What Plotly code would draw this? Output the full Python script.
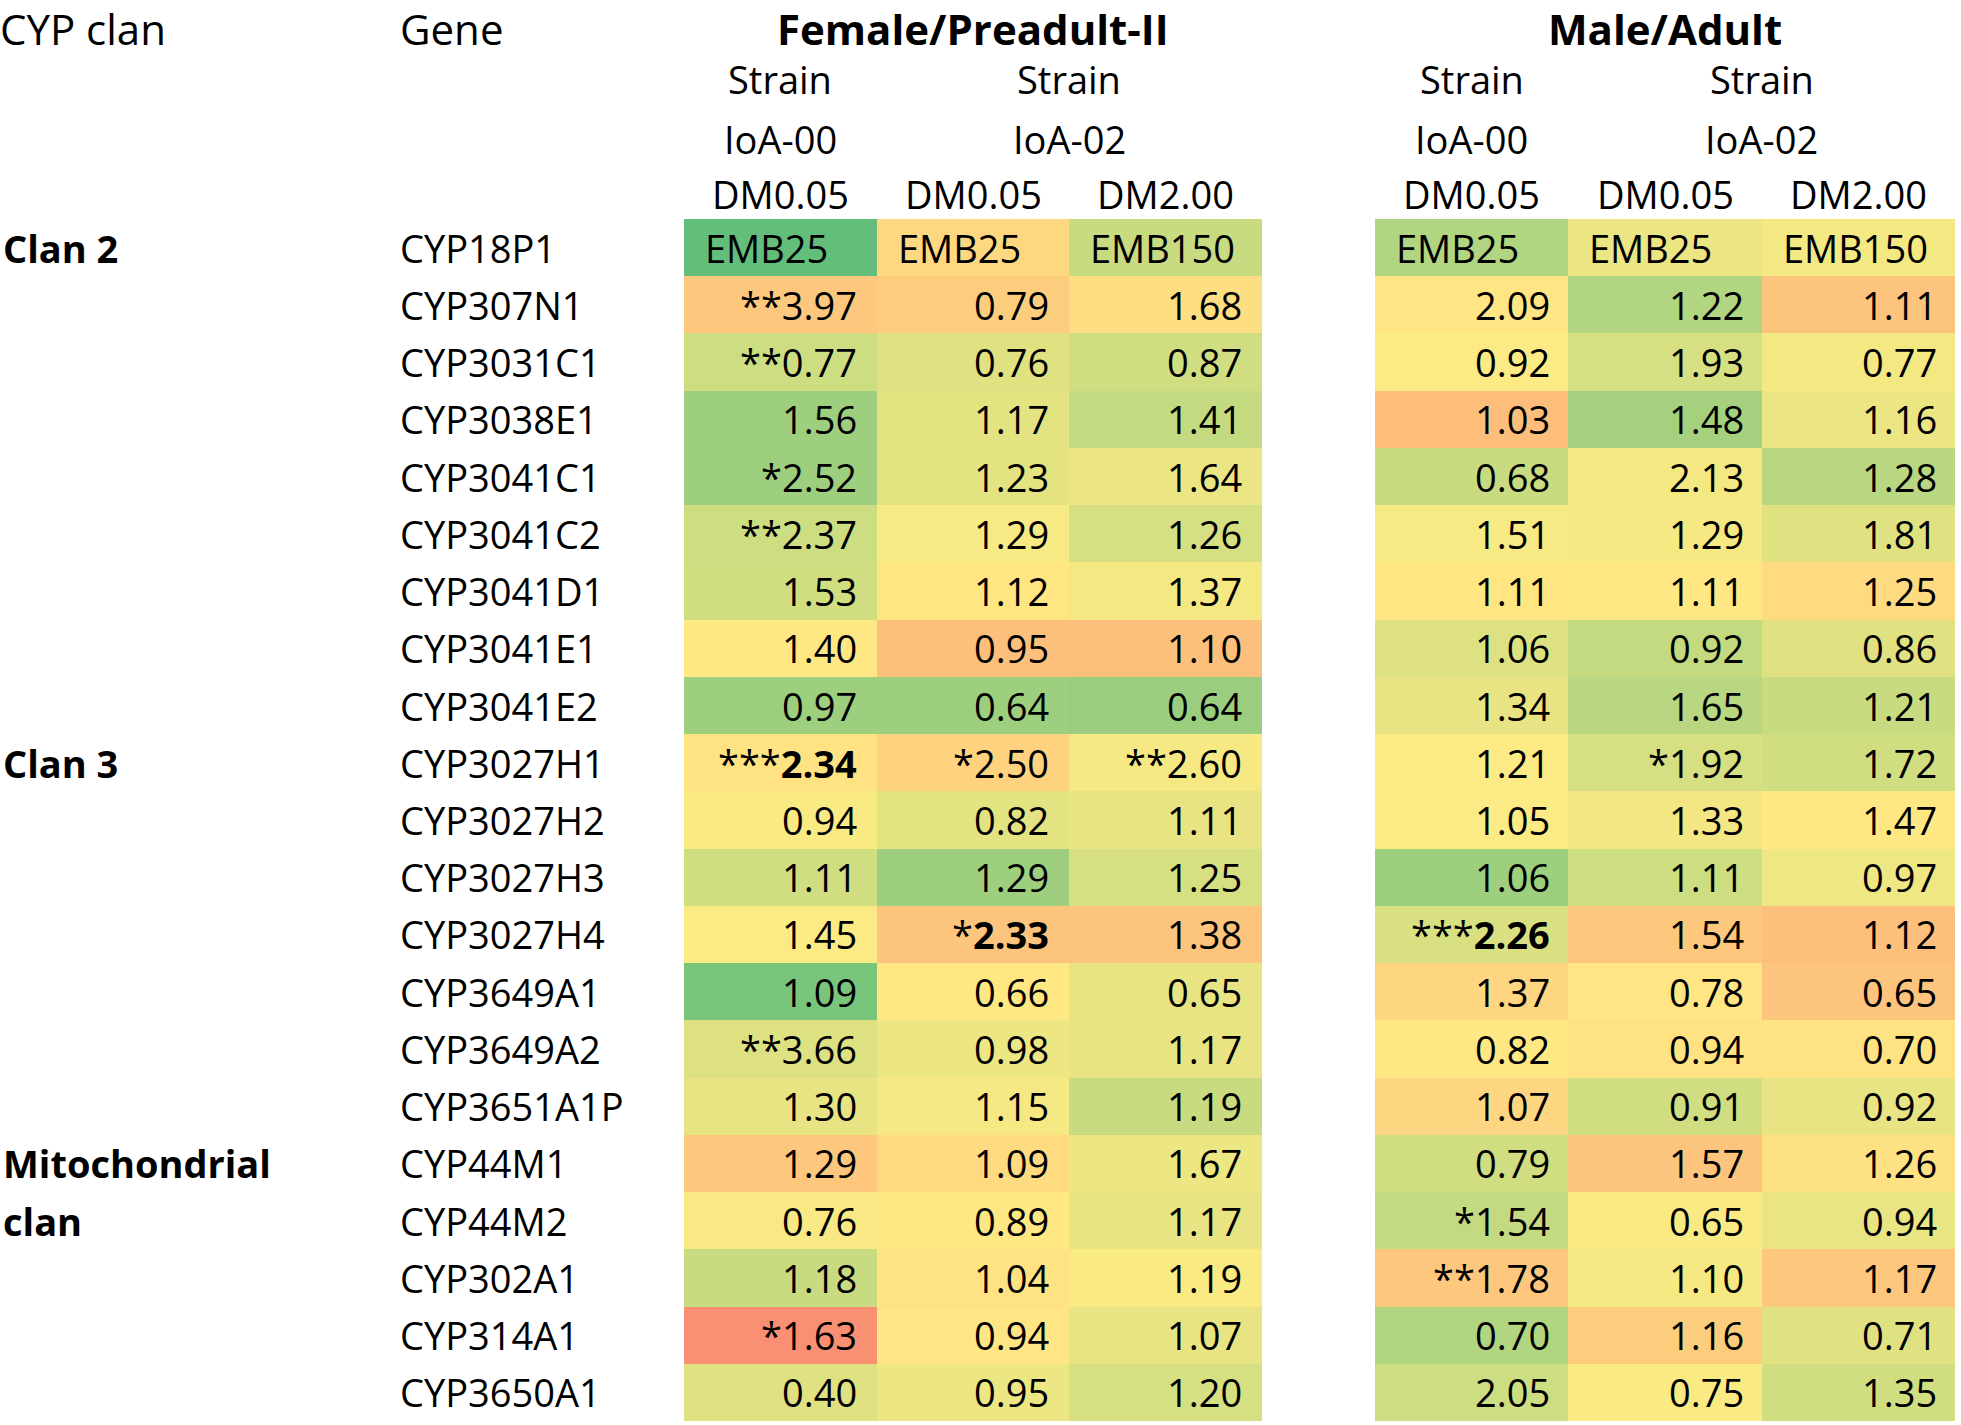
import plotly.graph_objects as go

# ---------------- data ----------------
genes = ["CYP18P1", "CYP307N1", "CYP3031C1", "CYP3038E1", "CYP3041C1", "CYP3041C2",
         "CYP3041D1", "CYP3041E1", "CYP3041E2", "CYP3027H1", "CYP3027H2", "CYP3027H3",
         "CYP3027H4", "CYP3649A1", "CYP3649A2", "CYP3651A1P", "CYP44M1", "CYP44M2",
         "CYP302A1", "CYP314A1", "CYP3650A1"]

clan_names = ["Clan 2", "Clan 3", "Mitochondrial clan"]
clan_first_gene = ["CYP18P1", "CYP3027H1", "CYP44M1"]

strains = ["IoA-00", "IoA-02"]
doses = ["DM0.05", "DM0.05", "DM2.00"]
emb_labels = ["EMB25", "EMB25", "EMB150"]

# values for genes[1:] (rows) x 3 columns
female_vals = [
    [3.97, 0.79, 1.68], [0.77, 0.76, 0.87], [1.56, 1.17, 1.41], [2.52, 1.23, 1.64],
    [2.37, 1.29, 1.26], [1.53, 1.12, 1.37], [1.40, 0.95, 1.10], [0.97, 0.64, 0.64],
    [2.34, 2.50, 2.60], [0.94, 0.82, 1.11], [1.11, 1.29, 1.25], [1.45, 2.33, 1.38],
    [1.09, 0.66, 0.65], [3.66, 0.98, 1.17], [1.30, 1.15, 1.19], [1.29, 1.09, 1.67],
    [0.76, 0.89, 1.17], [1.18, 1.04, 1.19], [1.63, 0.94, 1.07], [0.40, 0.95, 1.20]]
female_sig = [
    ["**", "", ""], ["**", "", ""], ["", "", ""], ["*", "", ""],
    ["**", "", ""], ["", "", ""], ["", "", ""], ["", "", ""],
    ["***", "*", "**"], ["", "", ""], ["", "", ""], ["", "*", ""],
    ["", "", ""], ["**", "", ""], ["", "", ""], ["", "", ""],
    ["", "", ""], ["", "", ""], ["*", "", ""], ["", "", ""]]
female_bold = [(8, 0), (11, 1)]

male_vals = [
    [2.09, 1.22, 1.11], [0.92, 1.93, 0.77], [1.03, 1.48, 1.16], [0.68, 2.13, 1.28],
    [1.51, 1.29, 1.81], [1.11, 1.11, 1.25], [1.06, 0.92, 0.86], [1.34, 1.65, 1.21],
    [1.21, 1.92, 1.72], [1.05, 1.33, 1.47], [1.06, 1.11, 0.97], [2.26, 1.54, 1.12],
    [1.37, 0.78, 0.65], [0.82, 0.94, 0.70], [1.07, 0.91, 0.92], [0.79, 1.57, 1.26],
    [1.54, 0.65, 0.94], [1.78, 1.10, 1.17], [0.70, 1.16, 0.71], [2.05, 0.75, 1.35]]
male_sig = [
    ["", "", ""], ["", "", ""], ["", "", ""], ["", "", ""],
    ["", "", ""], ["", "", ""], ["", "", ""], ["", "", ""],
    ["", "*", ""], ["", "", ""], ["", "", ""], ["***", "", ""],
    ["", "", ""], ["", "", ""], ["", "", ""], ["", "", ""],
    ["*", "", ""], ["**", "", ""], ["", "", ""], ["", "", ""]]
male_bold = [(11, 0)]

# colour score per cell (-1 red .. 0 yellow .. +1 green), all 21 rows
female_color = [
    [1.00, -0.15, 0.35], [-0.27, -0.23, -0.10], [0.32, 0.20, 0.30], [0.62, 0.17, 0.38],
    [0.62, 0.17, 0.13], [0.32, 0.05, 0.26], [0.30, -0.04, 0.07], [-0.03, -0.33, -0.33],
    [0.62, 0.62, 0.65], [-0.07, -0.19, 0.06], [0.03, 0.17, 0.15], [0.30, 0.62, 0.26],
    [0.02, -0.30, -0.30], [0.85, -0.03, 0.15], [0.22, 0.12, 0.15], [0.15, 0.06, 0.35],
    [-0.27, -0.12, 0.12], [0.04, -0.03, 0.15], [0.35, -0.06, 0.03], [-0.70, -0.05, 0.15],
    [0.20, 0.12, 0.26]]
male_color = [
    [0.50, 0.13, 0.07], [-0.05, 0.50, -0.30], [0.02, 0.26, 0.07], [-0.35, 0.58, 0.13],
    [0.35, 0.07, 0.45], [0.05, 0.06, 0.20], [-0.04, -0.02, -0.12], [0.22, 0.38, 0.20],
    [0.15, 0.45, 0.35], [0.02, 0.26, 0.30], [0.02, 0.08, -0.02], [0.62, 0.32, 0.10],
    [0.25, -0.27, -0.33], [-0.17, -0.05, -0.30], [-0.02, -0.06, -0.06], [-0.17, 0.30, 0.15],
    [0.30, -0.30, -0.08], [0.38, 0.03, 0.14], [-0.27, 0.06, -0.27], [0.50, -0.23, 0.20],
    [0.32, 0.03, 0.30]]

# ---------------- figure ----------------
W, H = 1961, 1425
FONT = "Open Sans"
FS = 38
FS_TOP = 42
colorscale = [[0.0, "#F8696B"], [0.5, "#FFEB84"], [1.0, "#63BE7B"]]

fig = go.Figure()
rows = list(range(len(genes)))
cols = [0, 1, 2]
for xa, zc in (("x", female_color), ("x2", male_color)):
    fig.add_trace(go.Heatmap(z=zc, x=cols, y=rows, xaxis=xa, yaxis="y",
                             colorscale=colorscale, zmin=-1, zmax=1,
                             showscale=False, hoverinfo="skip"))

ann = []


def txt(text, x, y, xref="paper", yref="paper", xanchor="center", bold=False,
        xshift=0, size=FS):
    ann.append(dict(text=text, x=x, y=y, xref=xref, yref=yref, xanchor=xanchor,
                    yanchor="middle", showarrow=False, xshift=xshift,
                    font=dict(family=FONT, size=size, color="black",
                              weight="bold" if bold else "normal")))


def py(px):
    return 1 - px / H


# header texts
TOP_Y = 28
txt("CYP clan", 0, py(TOP_Y), xanchor="left", xshift=-2, size=FS_TOP)
txt("Gene", 398 / W, py(TOP_Y), xanchor="left", size=FS_TOP)
for xa, title in (("x", "Female/Preadult-II"), ("x2", "Male/Adult")):
    txt(title, 1, py(TOP_Y), xref=xa, bold=True, size=FS_TOP)
    txt("Strain", 0, py(79), xref=xa)
    txt(strains[0], 0, py(139), xref=xa)
    txt("Strain", 1.5, py(79), xref=xa)
    txt(strains[1], 1.5, py(139), xref=xa)
    for c, d in enumerate(doses):
        txt(d, c, py(194), xref=xa)
    for c, lab in enumerate(emb_labels):
        txt(lab, c - 0.5, 0, xref=xa, yref="y", xanchor="left", xshift=19)

# gene names
for r, g in enumerate(genes):
    txt(g, 398 / W, r, yref="y", xanchor="left")

# clan labels
for name, g in zip(clan_names, clan_first_gene):
    r0 = genes.index(g)
    parts = ["Mitochondrial", "clan"] if name == "Mitochondrial clan" else [name]
    for i, p in enumerate(parts):
        txt(p, 1 / W, r0 + i, yref="y", xanchor="left", bold=True)

# cell values
for xa, vals, sig, bold, xs in (("x", female_vals, female_sig, female_bold, -18),
                                ("x2", male_vals, male_sig, male_bold, -16)):
    for r, rowv in enumerate(vals):
        for c, v in enumerate(rowv):
            s = f"{v:.2f}"
            if (r, c) in bold:
                s = f"<b>{s}</b>"
            txt(sig[r][c] + s, c + 0.5, r + 1, xref=xa, yref="y",
                xanchor="right", xshift=xs)

fig.update_layout(
    width=W, height=H, margin=dict(l=0, r=0, t=0, b=0),
    paper_bgcolor="white", plot_bgcolor="white",
    annotations=ann, hovermode=False,
    xaxis=dict(domain=[684 / W, 1262 / W], range=[-0.5, 2.5], visible=False,
               fixedrange=True),
    xaxis2=dict(domain=[1375 / W, 1955 / W], range=[-0.5, 2.5], visible=False,
                fixedrange=True),
    yaxis=dict(domain=[1 - 1421 / H, 1 - 219 / H], range=[20.5, -0.5],
               visible=False, fixedrange=True),
)

fig.write_html("out.html",
               config={"displayModeBar": False, "staticPlot": True},
               post_script="document.body.style.margin='0';"
                           "document.body.style.padding='0';")
